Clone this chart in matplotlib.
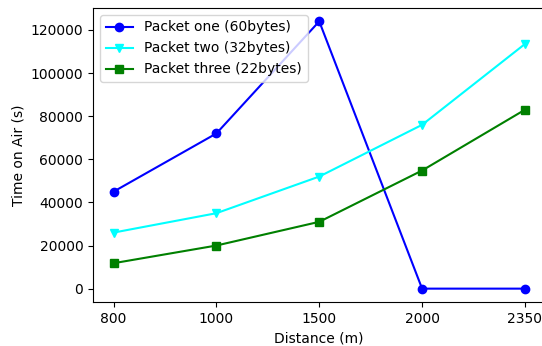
import numpy as np
import matplotlib
matplotlib.use("Agg")
import matplotlib.pyplot as plt

distances = ["800", "1000", "1500", "2000", "2350"]
packet_one = [45000, 72000, 124000, 0, 0]
packet_two = [26000, 35000, 52000, 76000, 113500]
packet_three = [11800, 20000, 31000, 54800, 83000]

fig = plt.figure(figsize=(5.42, 3.46), dpi=100)
# the original was cropped at the right, so the right spine sits just past the edge
ax = fig.add_axes([93 / 542, 44 / 346, 452.5 / 542, 294 / 346])

x = np.arange(len(distances))
ax.plot(x, packet_one, color="b", marker="o", label="Packet one (60bytes)")
ax.plot(x, packet_two, color="cyan", marker="v", label="Packet two (32bytes)")
ax.plot(x, packet_three, color="g", marker="s", label="Packet three (22bytes)")

ax.set_xticks(x, distances)
ax.set_xlabel("Distance (m)")
ax.set_ylabel("Time on Air (s)")
ax.legend(loc="upper left")

fig.savefig("out.png", dpi=100)
